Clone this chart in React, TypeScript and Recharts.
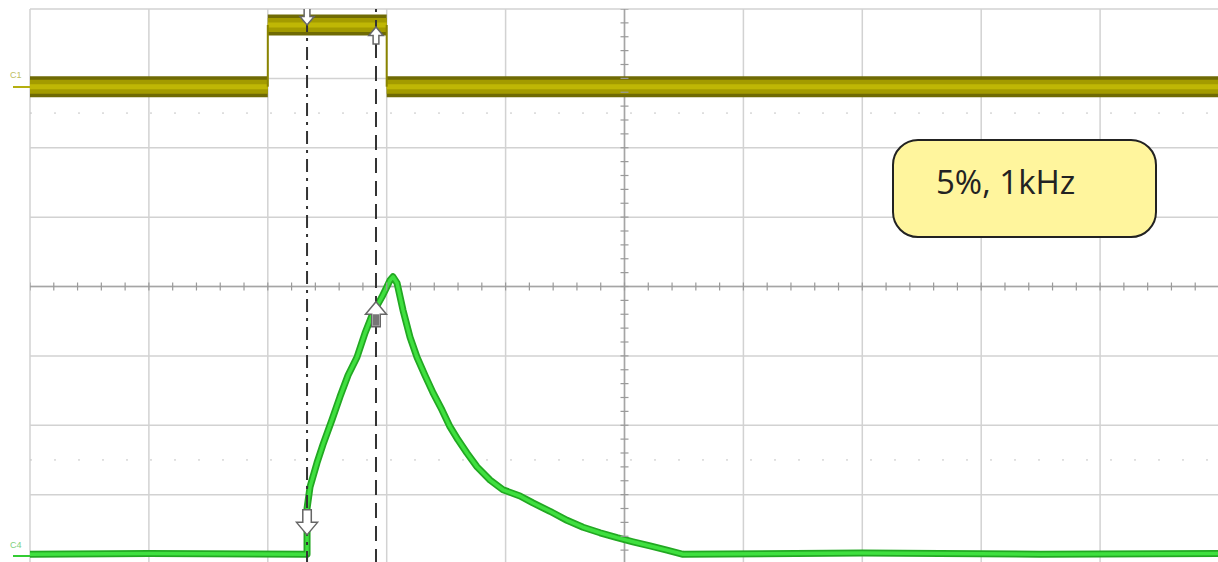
import React from "react";
import { CartesianGrid, ComposedChart, Line, ReferenceLine, Scatter, XAxis, YAxis } from "recharts";

// time axis in horizontal divisions (10), amplitude in vertical divisions (0 = bottom, 8 = top)
const gridX = [0, 1, 2, 3, 4, 5, 6, 7, 8, 9, 10];
const gridY = [0, 1, 2, 3, 4, 5, 6, 7, 8];

// C1: gate pulse, low / high segments
const c1Before = [{ t: 0, v: 6.88 }, { t: 2.0, v: 6.88 }];
const c1Pulse = [{ t: 2.0, v: 7.77 }, { t: 3.0, v: 7.77 }];
const c1After = [{ t: 3.0, v: 6.88 }, { t: 10, v: 6.88 }];
const c1Rise = [{ t: 2.0, v: 6.88 }, { t: 2.0, v: 7.77 }];
const c1Fall = [{ t: 3.0, v: 7.77 }, { t: 3.0, v: 6.88 }];

// C4: response
const c4Trace = [
  { t: 0, v: 0.14 }, { t: 1.0, v: 0.15 }, { t: 2.33, v: 0.14 },
  { t: 2.33, v: 0.8 }, { t: 2.355, v: 1.11 }, { t: 2.414, v: 1.46 },
  { t: 2.464, v: 1.72 }, { t: 2.54, v: 2.08 }, { t: 2.607, v: 2.41 },
  { t: 2.675, v: 2.72 }, { t: 2.75, v: 2.98 }, { t: 2.818, v: 3.33 },
  { t: 2.885, v: 3.62 }, { t: 2.96, v: 3.85 }, { t: 3.028, v: 4.09 },
  { t: 3.053, v: 4.14 }, { t: 3.087, v: 4.05 }, { t: 3.137, v: 3.66 },
  { t: 3.196, v: 3.27 }, { t: 3.255, v: 2.98 }, { t: 3.322, v: 2.72 },
  { t: 3.389, v: 2.47 }, { t: 3.465, v: 2.22 }, { t: 3.532, v: 1.98 },
  { t: 3.6, v: 1.79 }, { t: 3.675, v: 1.6 }, { t: 3.76, v: 1.4 },
  { t: 3.869, v: 1.21 }, { t: 3.978, v: 1.07 }, { t: 4.121, v: 0.98 },
  { t: 4.23, v: 0.88 }, { t: 4.373, v: 0.76 }, { t: 4.516, v: 0.63 },
  { t: 4.651, v: 0.53 }, { t: 4.794, v: 0.45 }, { t: 4.937, v: 0.38 },
  { t: 5.071, v: 0.32 }, { t: 5.215, v: 0.26 }, { t: 5.357, v: 0.2 },
  { t: 5.492, v: 0.14 }, { t: 7.0, v: 0.16 }, { t: 8.5, v: 0.14 },
  { t: 10, v: 0.15 },
];

// cursors
const cursorA = 2.33;
const cursorB = 2.91;
const c1Markers = [{ t: 2.33, v: 7.77, cursor: "A" }, { t: 2.91, v: 7.74, cursor: "B" }];
const c4Markers = [{ t: 2.33, v: 0.42, cursor: "A" }, { t: 2.91, v: 3.78, cursor: "B" }];

// minor ticks on the centre crosshair (every 0.2 div)
const centreTicksX = Array.from({ length: 51 }, (_, i) => ({ t: i * 0.2, v: 4 }));
const centreTicksY = Array.from({ length: 41 }, (_, i) => ({ t: 5, v: i * 0.2 }));

const annotation = "5%, 1kHz";

function arrow(size: number, shaftFill: string) {
  return (p: any) => {
    const { cx, cy, payload } = p;
    const up = payload.cursor === "B";
    const hw = size * 0.42;
    const sw = size * 0.17;
    const hh = size * 0.5;
    const d = up ? 1 : -1;
    const path = `M${cx} ${cy} L${cx + hw} ${cy + d * hh} L${cx + sw} ${cy + d * hh} L${cx + sw} ${cy + d * size} L${cx - sw} ${cy + d * size} L${cx - sw} ${cy + d * hh} L${cx - hw} ${cy + d * hh} Z`;
    return (
      <g>
        <path d={path} fill="#fff" stroke="#666" strokeWidth={1.5} />
        {up && <rect x={cx - sw + 1} y={cy + hh} width={sw * 2 - 2} height={size - hh - 1} fill={shaftFill} />}
      </g>
    );
  };
}

const hTick = (p: any) => <line x1={p.cx} x2={p.cx} y1={p.cy - 4} y2={p.cy + 4} stroke="#9a9a9a" strokeWidth={1.2} />;
const vTick = (p: any) => <line x1={p.cx - 4} x2={p.cx + 4} y1={p.cy} y2={p.cy} stroke="#9a9a9a" strokeWidth={1.2} />;

export default function App() {
  const c1Band = (data: { t: number; v: number }[], key: string) => [
    <Line key={key + "o"} data={data} dataKey="v" stroke="#6f6a04" strokeWidth={21} strokeLinecap="butt" dot={false} isAnimationActive={false} />,
    <Line key={key + "m"} data={data} dataKey="v" stroke="#a39b00" strokeWidth={14} strokeLinecap="butt" dot={false} isAnimationActive={false} />,
    <Line key={key + "i"} data={data} dataKey="v" stroke="#bfb705" strokeWidth={5} strokeLinecap="butt" dot={false} isAnimationActive={false} />,
  ];

  return (
    <div style={{ position: "absolute", left: 0, top: 0, width: 1218, height: 562, overflow: "hidden", background: "#fff", fontFamily: "'Open Sans', sans-serif" }}>
      <ComposedChart width={1220} height={565} margin={{ top: 9, left: 30, right: 1, bottom: 1 }}>
        <CartesianGrid stroke="#d2d2d2" strokeWidth={1.5} />
        <XAxis dataKey="t" type="number" domain={[0, 10]} ticks={gridX} hide allowDataOverflow />
        <YAxis type="number" domain={[0, 8]} ticks={gridY} hide allowDataOverflow />
        <ReferenceLine x={5} stroke="#a5a5a5" strokeWidth={1.5} />
        <ReferenceLine y={4} stroke="#a5a5a5" strokeWidth={1.5} />
        <ReferenceLine y={6.5} stroke="#c4c4c4" strokeDasharray="2 22" />
        <ReferenceLine y={1.5} stroke="#c4c4c4" strokeDasharray="2 22" />
        <Scatter data={centreTicksX} dataKey="v" shape={hTick} isAnimationActive={false} />
        <Scatter data={centreTicksY} dataKey="v" shape={vTick} isAnimationActive={false} />
        {c1Band(c1Before, "b")}
        {c1Band(c1Pulse, "p")}
        {c1Band(c1After, "a")}
        <Line data={c1Rise} dataKey="v" stroke="#8a8400" strokeWidth={2} dot={false} isAnimationActive={false} />
        <Line data={c1Fall} dataKey="v" stroke="#8a8400" strokeWidth={2} dot={false} isAnimationActive={false} />
        <Line data={c4Trace} dataKey="v" stroke="#22a822" strokeWidth={7} strokeLinejoin="round" dot={false} isAnimationActive={false} />
        <Line data={c4Trace} dataKey="v" stroke="#3fe03f" strokeWidth={3.5} strokeLinejoin="round" dot={false} isAnimationActive={false} />
        <ReferenceLine x={cursorA} stroke="#333" strokeWidth={2} strokeDasharray="13 6 3 6" />
        <ReferenceLine x={cursorB} stroke="#333" strokeWidth={2} strokeDasharray="15 8" />
        <Scatter data={c1Markers} dataKey="v" shape={arrow(17, "#fff")} isAnimationActive={false} />
        <Scatter data={c4Markers} dataKey="v" shape={arrow(25, "#777")} isAnimationActive={false} />
      </ComposedChart>
      <div style={{ position: "absolute", left: 10, top: 70, fontSize: 9, color: "#bdbd62", fontFamily: "Arial, sans-serif" }}>C1</div>
      <div style={{ position: "absolute", left: 13, top: 86, width: 17, height: 2, background: "#b5af10" }} />
      <div style={{ position: "absolute", left: 10, top: 540, fontSize: 9, color: "#7ed07e", fontFamily: "Arial, sans-serif" }}>C4</div>
      <div style={{ position: "absolute", left: 13, top: 555, width: 17, height: 2, background: "#33cc33" }} />
      <div
        style={{
          position: "absolute", left: 892, top: 139, width: 261, height: 95,
          background: "#fff59d", border: "2px solid #222", borderRadius: 26,
          boxSizing: "content-box",
        }}
      >
        <div style={{ position: "absolute", left: 42, top: 24, fontSize: 33, color: "#222", lineHeight: 1, whiteSpace: "nowrap" }}>{annotation}</div>
      </div>
    </div>
  );
}
